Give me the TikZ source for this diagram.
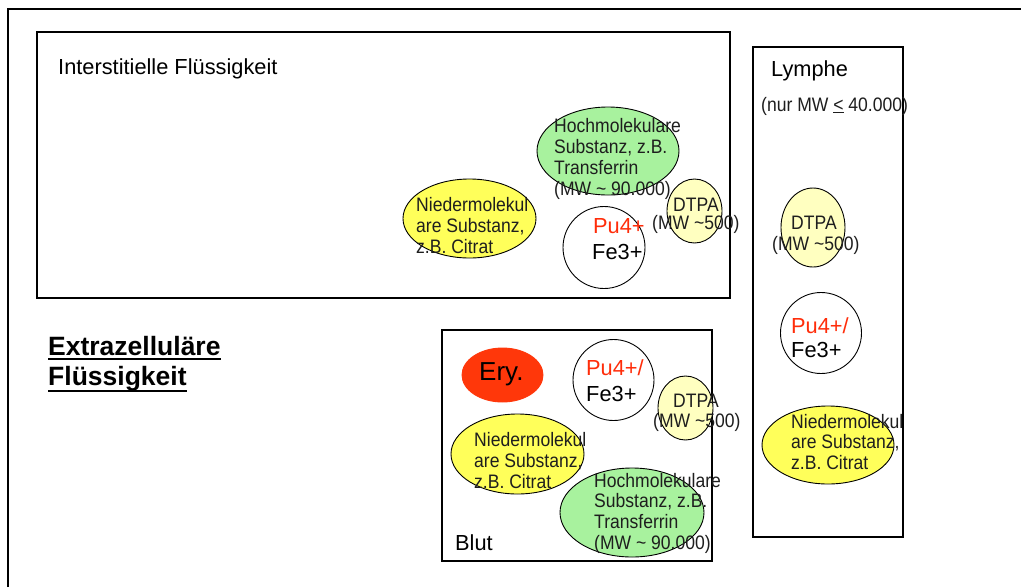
\documentclass[tikz,border=0pt]{standalone}
\usepackage{fontspec}
\setmainfont{Liberation Sans}
\newfontfamily\narrowf{Liberation Sans}[FakeStretch=0.9]
\usetikzlibrary{shapes.geometric}
\definecolor{hgreen}{RGB}{168,242,158}
\definecolor{nyellow}{RGB}{255,255,90}
\definecolor{lyellow}{RGB}{255,255,192}
\definecolor{eryred}{RGB}{255,55,10}
\definecolor{pured}{RGB}{255,45,10}
\definecolor{txtc}{RGB}{30,30,30}
\tikzset{
  box/.style={draw, line width=1.8pt},
  blob/.style={draw, line width=0.9pt, ellipse, inner sep=0pt},
  txt/.style={anchor=base west, inner sep=0pt, text=txtc, font=\narrowf\fontsize{19.5}{23}\selectfont},
  lbl/.style={anchor=base west, inner sep=0pt, font=\fontsize{21.8}{26}\selectfont},
  redlbl/.style={lbl, text=pured},
  big/.style={anchor=base west, inner sep=0pt, font=\fontsize{26.5}{30}\selectfont\bfseries},
  uline/.style={line width=1.8pt},
}
\begin{document}
\begin{tikzpicture}[x=1pt,y=-1pt]
\useasboundingbox (0,0) rectangle (1021,587);
\fill[white] (0,0) rectangle (1021,587);
% outer frame
\draw[line width=2.2pt] (8,587) -- (8,9) -- (1021,9);
% boxes
\draw[box] (37,32) rectangle (730,298);
\draw[box] (753,47) rectangle (903,537);
\draw[box] (442,330) rectangle (712,561);

% ---- Interstitial ----
\node[blob, fill=hgreen, minimum width=142pt, minimum height=88pt] (eHI) at (608,151) {};
\node[blob, fill=nyellow, minimum width=133pt, minimum height=79pt] (eNI) at (469.5,218.5) {};
\node[blob, circle, fill=white, minimum size=82pt] (cI) at (604,247.5) {};
\node[blob, fill=lyellow, minimum width=55pt, minimum height=64pt] (dI) at (694.5,211) {};

\node[lbl] (tIF) at (58,74) {Interstitielle Flüssigkeit};
\node[txt] (hI1) at (554,132) {Hochmolekulare};
\node[txt] (hI2) at (554,153) {Substanz, z.B.};
\node[txt] (hI3) at (554,174) {Transferrin};
\node[txt] (hI4) at (554,195) {(MW \textasciitilde{} 90.000)};
\node[txt] (nI1) at (416,211) {Niedermolekul};
\node[txt] (nI2) at (416,232) {are Substanz,};
\node[txt] (nI3) at (416,253) {z.B. Citrat};
\node[redlbl] (pI) at (593,233) {Pu4+};
\node[lbl] (fI) at (592,259) {Fe3+};
\node[txt] (dI1) at (673,211) {DTPA};
\node[txt] (dI2) at (652,229) {(MW \textasciitilde500)};

% ---- Lymphe ----
\node[blob, fill=lyellow, minimum width=64pt, minimum height=79pt] (dL) at (813,227.5) {};
\node[blob, circle, fill=white, minimum size=81pt] (cL) at (821,333) {};
\node[blob, fill=nyellow, minimum width=132pt, minimum height=78pt] (eNL) at (828,445) {};

\node[lbl] (tL) at (771,76) {Lymphe};
\node[txt] (tL2) at (761,111) {(nur MW \underline{<} 40.000)};
\node[txt] (dL1) at (791,229) {DTPA};
\node[txt] (dL2) at (772,250) {(MW \textasciitilde500)};
\node[redlbl] (pL) at (791,333) {Pu4+/};
\node[lbl] (fL) at (791,357) {Fe3+};
\node[txt] (nL1) at (791,428) {Niedermolekul};
\node[txt] (nL2) at (791,448) {are Substanz,};
\node[txt] (nL3) at (791,469) {z.B. Citrat};

% ---- Blut ----
\node[blob, draw=eryred, fill=eryred, minimum width=81pt, minimum height=54pt] (eE) at (502.5,375) {};
\node[blob, circle, fill=white, minimum size=81pt] (cB) at (613.5,380) {};
\node[blob, fill=lyellow, minimum width=55pt, minimum height=64pt] (dB) at (685.5,408) {};
\node[blob, fill=nyellow, minimum width=133pt, minimum height=80pt] (eNB) at (517.5,454) {};
\node[blob, fill=hgreen, minimum width=144pt, minimum height=89pt] (eHB) at (632,512.5) {};

\node[anchor=base west, inner sep=0pt, font=\fontsize{26}{30}\selectfont] (tE) at (479,380) {Ery.};
\node[redlbl] (pB) at (586,375) {Pu4+/};
\node[lbl] (fB) at (586,401) {Fe3+};
\node[txt] (dB1) at (673,407) {DTPA};
\node[txt] (dB2) at (653,427) {(MW \textasciitilde500)};
\node[txt] (nB1) at (474,446) {Niedermolekul};
\node[txt] (nB2) at (474,467) {are Substanz,};
\node[txt] (nB3) at (474,488) {z.B. Citrat};
\node[txt] (hB1) at (594,487) {Hochmolekulare};
\node[txt] (hB2) at (594,507) {Substanz, z.B.};
\node[txt] (hB3) at (594,528) {Transferrin};
\node[txt] (hB4) at (594,549) {(MW \textasciitilde{} 90.000)};
\node[lbl] (tB) at (455,550) {Blut};

% ---- Extrazellulaere ----
\node[big] (x1) at (48,355) {Extrazelluläre};
\node[big] (x2) at (48,385) {Flüssigkeit};
\draw[uline] ([yshift=-4pt]x1.base west) -- ([yshift=-4pt]x1.base east);
\draw[uline] ([yshift=-6pt]x2.base west) -- ([yshift=-6pt]x2.base east);
\end{tikzpicture}
\end{document}
